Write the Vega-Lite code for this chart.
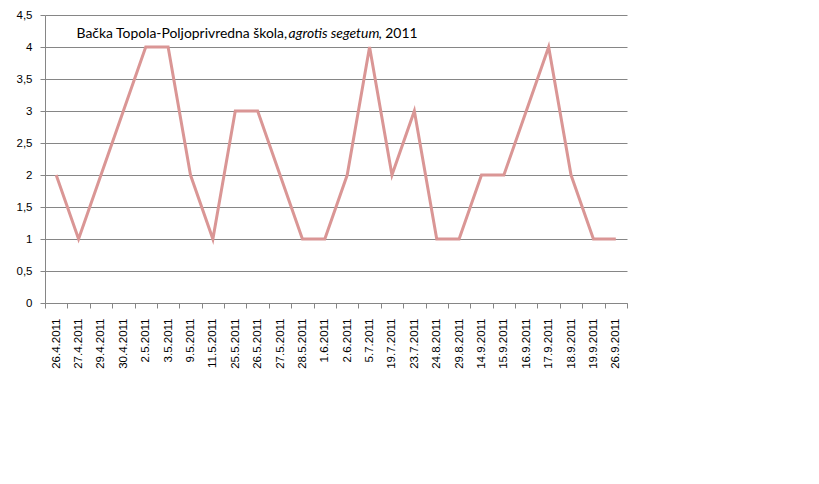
{
  "$schema": "https://vega.github.io/schema/vega-lite/v6.json",
  "autosize": {"type": "none"},
  "width": 582,
  "height": 288,
  "padding": {"left": 45, "top": 15, "right": 192, "bottom": 181},
  "background": "white",
  "config": {"view": {"stroke": null}},
  "data": {"values": [
    {"date": "26.4.2011", "v": 2},
    {"date": "27.4.2011", "v": 1},
    {"date": "29.4.2011", "v": 2},
    {"date": "30.4.2011", "v": 3},
    {"date": "2.5.2011", "v": 4},
    {"date": "3.5.2011", "v": 4},
    {"date": "9.5.2011", "v": 2},
    {"date": "11.5.2011", "v": 1},
    {"date": "25.5.2011", "v": 3},
    {"date": "26.5.2011", "v": 3},
    {"date": "27.5.2011", "v": 2},
    {"date": "28.5.2011", "v": 1},
    {"date": "1.6.2011", "v": 1},
    {"date": "2.6.2011", "v": 2},
    {"date": "5.7.2011", "v": 4},
    {"date": "19.7.2011", "v": 2},
    {"date": "23.7.2011", "v": 3},
    {"date": "24.8.2011", "v": 1},
    {"date": "29.8.2011", "v": 1},
    {"date": "14.9.2011", "v": 2},
    {"date": "15.9.2011", "v": 2},
    {"date": "16.9.2011", "v": 3},
    {"date": "17.9.2011", "v": 4},
    {"date": "18.9.2011", "v": 2},
    {"date": "19.9.2011", "v": 1},
    {"date": "26.9.2011", "v": 1}
  ]},
  "encoding": {
    "x": {
      "field": "date", "type": "ordinal", "sort": null, "bandPosition": 0.5,
      "scale": {"type": "band", "paddingInner": 0, "paddingOuter": 0},
      "axis": {
        "title": null, "labelAngle": -90, "labelFont": "Liberation Sans", "labelFontSize": 11.5,
        "labelColor": "#000000", "domainColor": "#868686", "tickColor": "#868686",
        "tickSize": 5, "labelPadding": 10, "tickBand": "extent", "grid": false
      }
    },
    "y": {
      "field": "v", "type": "quantitative",
      "scale": {"domain": [0, 4.5], "nice": false},
      "axis": {
        "title": null, "values": [0, 0.5, 1, 1.5, 2, 2.5, 3, 3.5, 4, 4.5],
        "labelExpr": "replace(format(datum.value, '~g'), '.', ',')",
        "labelFont": "Liberation Sans", "labelFontSize": 11.5, "labelColor": "#000000",
        "domainColor": "#868686", "tickColor": "#868686", "tickSize": 5, "labelPadding": 8,
        "gridColor": "#868686", "gridOpacity": 1, "gridWidth": 1
      }
    }
  },
  "layer": [
    {"mark": {"type": "line", "color": "#DA9695", "strokeWidth": 3, "strokeJoin": "miter"}},
    {
      "transform": [{"filter": "datum.date == '26.4.2011'"}],
      "mark": {"type": "text", "align": "left", "baseline": "middle", "font": "Lato", "fontSize": 13.9, "color": "#000000", "dx": -2, "text": "Bačka Topola-Poljoprivredna škola,"},
      "encoding": {"x": {"datum": "27.4.2011"}, "y": {"datum": 4.2}}
    },
    {
      "transform": [{"filter": "datum.date == '26.4.2011'"}],
      "mark": {"type": "text", "align": "left", "baseline": "middle", "font": "Lato", "fontSize": 13.9, "fontStyle": "italic", "color": "#000000", "dx": 210, "text": "agrotis segetum"},
      "encoding": {"x": {"datum": "27.4.2011"}, "y": {"datum": 4.2}}
    },
    {
      "transform": [{"filter": "datum.date == '26.4.2011'"}],
      "mark": {"type": "text", "align": "left", "baseline": "middle", "font": "Lato", "fontSize": 13.9, "color": "#000000", "dx": 300, "text": ", 2011"},
      "encoding": {"x": {"datum": "27.4.2011"}, "y": {"datum": 4.2}}
    }
  ]
}
